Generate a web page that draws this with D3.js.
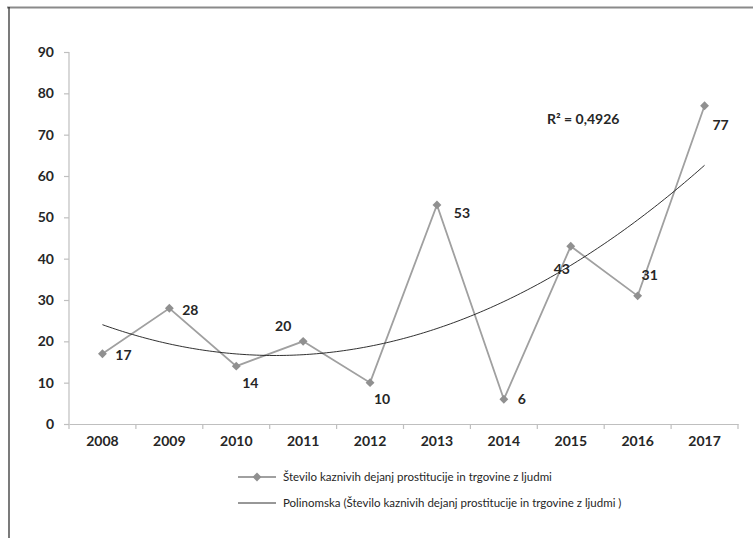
<!DOCTYPE html>
<html><head><meta charset="utf-8">
<script src="https://cdn.jsdelivr.net/npm/d3@7"></script>
<style>body{margin:0;background:#fff}svg{display:block}</style>
</head><body><svg id="c" width="753" height="538"></svg>
<script>
const years = ["2008","2009","2010","2011","2012","2013","2014","2015","2016","2017"];
const values = [17,28,14,20,10,53,6,43,31,77];
const yTicks = [0,10,20,30,40,50,60,70,80,90];
const seriesName = "Število kaznivih dejanj prostitucije in trgovine z ljudmi";
const trendName = "Polinomska (Število kaznivih dejanj prostitucije in trgovine z ljudmi )";
const r2Label = "R² = 0,4926";
// label placement offsets (px) relative to each point
const labelOffsets = [[21,1],[21,2],[14,17],[-20,-15],[12,16],[25,8],[18,0],[-9,23],[12,-21],[16,19]];

const svg = d3.select("#c");
const font = "Lato, 'Open Sans', sans-serif";
const x = d3.scaleBand().domain(years).range([69, 738]);
const y = d3.scaleLinear().domain([0, 90]).range([424, 52]);

// frame
svg.append("line").attr("x1",7).attr("x2",753).attr("y1",7.5).attr("y2",7.5).attr("stroke","#8a8a8a").attr("stroke-width",2);
svg.append("line").attr("x1",9).attr("x2",9).attr("y1",7).attr("y2",538).attr("stroke","#222").attr("stroke-width",1.2);

// axes
const xAxis = svg.append("g").attr("transform","translate(0,424)")
  .call(d3.axisBottom(x).tickSize(0).tickPadding(12));
xAxis.select(".domain").attr("stroke","#bfbfbf").attr("stroke-width",1.2);
const bounds = years.map(d => x(d)).concat([x.range()[1]]);
svg.append("g").selectAll("line").data(bounds).join("line")
  .attr("x1",d=>d).attr("x2",d=>d).attr("y1",424).attr("y2",429).attr("stroke","#bfbfbf").attr("stroke-width",1.2);
xAxis.selectAll("text").attr("font-family",font).attr("font-weight",700).attr("font-size",14).attr("fill","#262626");

const yAxis = svg.append("g").attr("transform","translate(69,0)")
  .call(d3.axisLeft(y).tickValues(yTicks).tickSize(5).tickPadding(10));
yAxis.select(".domain").attr("stroke","#bfbfbf").attr("stroke-width",1.2).attr("d","M0,52V424");
yAxis.selectAll(".tick line").attr("stroke","#bfbfbf").attr("stroke-width",1.2);
yAxis.selectAll("text").attr("font-family",font).attr("font-weight",700).attr("font-size",14).attr("fill","#262626");

// quadratic trend (least squares from values)
const n = values.length;
const ts = values.map((_,i)=>i+1);
function solve3(A,b){
  const M = A.map((r,i)=>r.concat([b[i]]));
  for(let i=0;i<3;i++){
    for(let k=i+1;k<3;k++){const f=M[k][i]/M[i][i];for(let j=i;j<4;j++)M[k][j]-=f*M[i][j];}
  }
  const s=[0,0,0];
  for(let i=2;i>=0;i--){let v=M[i][3];for(let j=i+1;j<3;j++)v-=M[i][j]*s[j];s[i]=v/M[i][i];}
  return s;
}
const S = p => d3.sum(ts, t => Math.pow(t,p));
const Sy = p => d3.sum(ts, (t,i) => Math.pow(t,p)*values[i]);
const coef = solve3([[S(0),S(1),S(2)],[S(1),S(2),S(3)],[S(2),S(3),S(4)]],[Sy(0),Sy(1),Sy(2)]);
const xc = t => x(years[0]) + x.bandwidth()/2 + (t-1)*x.step();
const trendPts = d3.range(1, n+0.001, 0.05).map(t => [xc(t), y(coef[0]+coef[1]*t+coef[2]*t*t)]);

const cx = (d,i) => x(years[i]) + x.bandwidth()/2;

// series line
svg.append("path").datum(values)
  .attr("d", d3.line().x((d,i)=>cx(d,i)).y(d=>y(d)))
  .attr("fill","none").attr("stroke","#a0a0a0").attr("stroke-width",1.8);

// trend line
svg.append("path").datum(trendPts)
  .attr("d", d3.line()).attr("fill","none").attr("stroke","#1a1a1a").attr("stroke-width",0.9);

// markers
const diamond = d3.symbol().type(d3.symbolDiamond2).size(50);
svg.append("g").selectAll("path").data(values).join("path")
  .attr("d", diamond)
  .attr("transform",(d,i)=>`translate(${cx(d,i)},${y(d)})`)
  .attr("fill","#909090");

// data labels
svg.append("g").selectAll("text").data(values).join("text")
  .attr("x",(d,i)=>cx(d,i)+labelOffsets[i][0])
  .attr("y",(d,i)=>y(d)+labelOffsets[i][1])
  .attr("dy","0.35em").attr("text-anchor","middle")
  .attr("font-family",font).attr("font-weight",700).attr("font-size",14).attr("fill","#262626")
  .text(d=>d);

// R2
svg.append("text").attr("x",547).attr("y",124).attr("font-family",font).attr("font-weight",700)
  .attr("font-size",14).attr("fill","#262626").text(r2Label);

// legend
const lg = svg.append("g");
lg.append("line").attr("x1",238).attr("x2",276).attr("y1",477).attr("y2",477).attr("stroke","#a0a0a0").attr("stroke-width",1.8);
lg.append("path").attr("d",diamond).attr("transform","translate(257,477)").attr("fill","#909090");
lg.append("text").attr("x",283).attr("y",477).attr("dy","0.35em").attr("font-family",font).attr("font-size",11.5).attr("fill","#262626").text(seriesName);
lg.append("line").attr("x1",238).attr("x2",276).attr("y1",503).attr("y2",503).attr("stroke","#1a1a1a").attr("stroke-width",0.9);
lg.append("text").attr("x",283).attr("y",503).attr("dy","0.35em").attr("font-family",font).attr("font-size",11.5).attr("fill","#262626").text(trendName);
</script></body></html>
